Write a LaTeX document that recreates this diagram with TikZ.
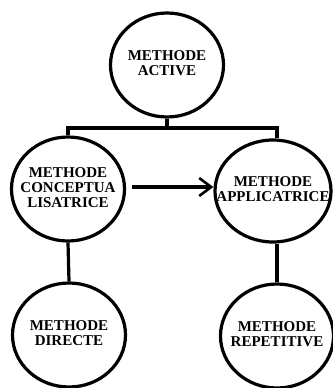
\documentclass[tikz,border=0pt]{standalone}
\usepackage{fontspec}
\setmainfont{Liberation Serif}
\usetikzlibrary{shapes.geometric,arrows.meta}
% centred block of lines that does not widen its node
\newcommand\mlines[1]{\makebox[0pt]{\begin{tabular}{@{}c@{}}#1\end{tabular}}}
\begin{document}
\begin{tikzpicture}[x=1pt,y=-1pt,
  method/.style={ellipse,draw,line width=3.2pt,minimum width=113pt,minimum height=104pt,
    inner sep=0pt,font=\fontsize{15}{15}\selectfont\bfseries},
  link/.style={line width=3.2pt}]
\useasboundingbox (0,0) rectangle (332,388);
\node[method] (active) at (167,65) {\mlines{METHODE\\ACTIVE}};
\node[method] (concept) at (68,189) {\mlines{METHODE\\CONCEPTUA\\LISATRICE}};
\node[method,minimum width=116pt,minimum height=102pt] (applic) at (273,191) {\mlines{METHODE\\APPLICATRICE}};
\node[method] (directe) at (69,335) {\raisebox{1.5pt}{\mlines{METHODE\\DIRECTE}}};
\node[method] (repet) at (277,336) {\raisebox{2pt}{\mlines{METHODE\\REPETITIVE}}};
\coordinate (bar) at (167,128);
\draw[link] (active.south) -- (bar);
\draw[link] (concept.north) -- (concept.north |- bar) -- (repet.north |- bar) -- (repet.north |- applic.north);
\coordinate (arrowy) at (0,187);
\draw[link,shorten <=6pt,-{Straight Barb[length=12pt,width=18pt,line width=2.6pt]}]
  (concept.east |- arrowy) -- (applic.west |- arrowy);
\draw[link] (concept.south) -- (directe.north);
\draw[link] (repet.north) -- (repet.north |- applic.south);
\end{tikzpicture}
\end{document}
